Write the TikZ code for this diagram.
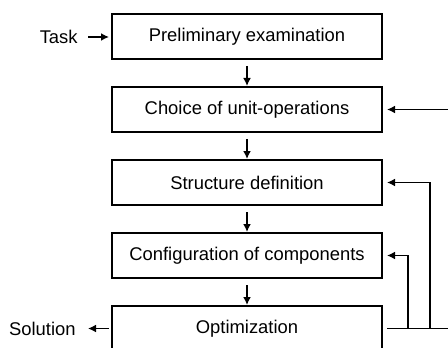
\documentclass[tikz,border=0pt]{standalone}
\usepackage{fontspec}
\setmainfont{Liberation Sans}
\usetikzlibrary{arrows.meta}
\begin{document}
\begin{tikzpicture}[x=0.5pt,y=-0.5pt,
  stepbox/.style={draw,line width=1pt,minimum width=135pt,minimum height=22.5pt,inner sep=0pt,font=\fontsize{9.2pt}{11pt}\selectfont},
  lbl/.style={inner sep=0pt,font=\fontsize{9.2pt}{11pt}\selectfont},
  conn/.style={line width=0.9pt,-{Latex[length=4pt,width=4pt]}},
  wire/.style={line width=0.9pt}]
\useasboundingbox (0,0) rectangle (448,347);
\node[stepbox] (b1) at (247,36.5) {Preliminary examination};
\node[stepbox] (b2) at (247,109.5) {Choice of unit-operations};
\node[stepbox] (b3) at (247,182.5) {Structure definition};
\node[stepbox] (b4) at (247,255.5) {Configuration of components};
\node[stepbox] (b5) at (247,328.5) {Optimization};
\node[lbl,anchor=east] (task) at (78,37) {Task};
\node[lbl,anchor=east] (sol) at (76,328.5) {Solution};
\draw[conn,shorten <=3pt] (b1) -- (b2);
\draw[conn,shorten <=3pt] (b2) -- (b3);
\draw[conn,shorten <=3pt] (b3) -- (b4);
\draw[conn,shorten <=3pt] (b4) -- (b5);
\draw[conn,shorten <=5pt,shorten >=1pt] (task.east) -- (b1.west |- task.east);
\draw[conn,shorten <=1pt,shorten >=6pt] (b5.west) -- (sol.east);
\coordinate (fb) at (452,328.5);
\coordinate (fs) at (430,328.5);
\coordinate (fc) at (408,328.5);
\draw[wire,shorten <=2pt] (b5.east) -- (fb) -- (fb |- b2.east);
\draw[conn,shorten >=2pt] (fb |- b2.east) -- (b2.east);
\draw[conn,shorten >=2pt] (fs) -- (fs |- b3.east) -- (b3.east);
\draw[conn,shorten >=2pt] (fc) -- (fc |- b4.east) -- (b4.east);
\end{tikzpicture}
\end{document}
